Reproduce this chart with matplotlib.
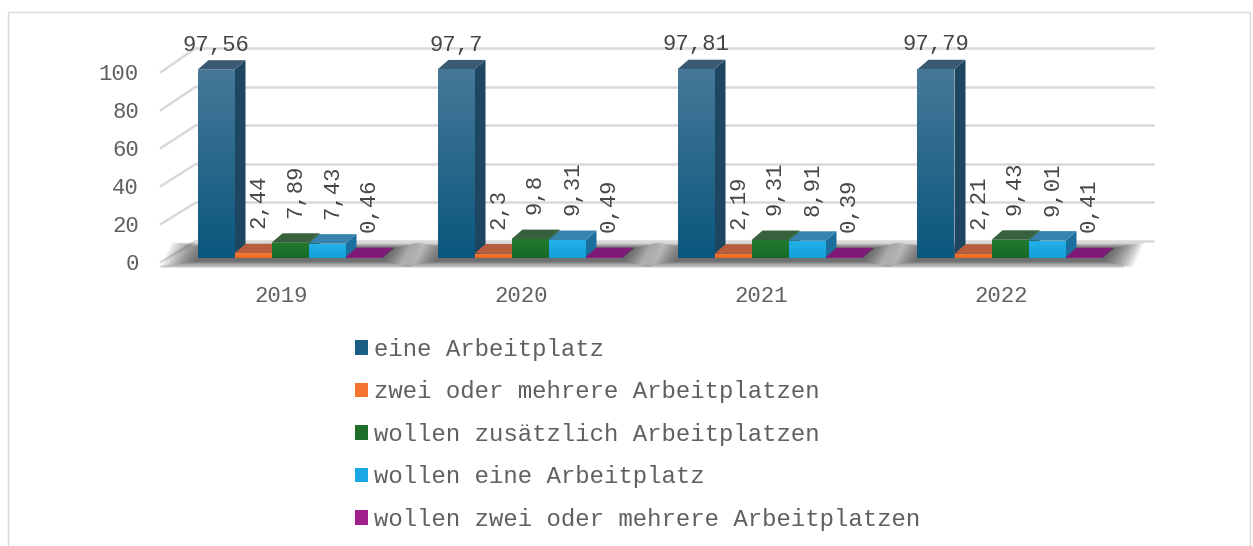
import matplotlib
matplotlib.use("Agg")
import matplotlib.pyplot as plt
import numpy as np
from matplotlib.patches import Polygon, Rectangle, Patch
from matplotlib.colors import LinearSegmentedColormap

# ---------------- data ----------------
years = ["2019", "2020", "2021", "2022"]
series_names = [
    "eine Arbeitplatz",
    "zwei oder mehrere Arbeitplatzen",
    "wollen zusätzlich Arbeitplatzen",
    "wollen eine Arbeitplatz",
    "wollen zwei oder mehrere Arbeitplatzen",
]
eine = [97.56, 97.7, 97.81, 97.79]
zwei = [2.44, 2.3, 2.19, 2.21]
zusaetzlich = [7.89, 9.8, 9.31, 9.43]
wollen_eine = [7.43, 9.31, 8.91, 9.01]
wollen_zwei = [0.46, 0.49, 0.39, 0.41]
series_values = [eine, zwei, zusaetzlich, wollen_eine, wollen_zwei]
y_ticks = [0, 20, 40, 60, 80, 100]

# ---------------- style ----------------
front_top = ["#467898", "#f47a34", "#227a30", "#25b0e8", "#941f86"]
front_bot = ["#0b587e", "#ec6a22", "#166a26", "#12a0da", "#8a1a7c"]
top_col = ["#3a5a73", "#b85e3c", "#37613c", "#3684ad", "#7f1b77"]
side_col = ["#1d4660", "#a84a1c", "#0f4a1a", "#1a6f9c", "#5c1256"]
legend_col = ["#1a5e85", "#f47430", "#1e6e2a", "#1aa8e4", "#a0208e"]
text_col = "#606060"
value_col = "#454545"
grid_col = "#d9d9d9"
FONT = "Liberation Mono"

W, H = 1253, 546
fig = plt.figure(figsize=(W / 100, H / 100), dpi=100)
fig.patch.set_facecolor("white")


def rect_px(left, top, right, bottom):
    return [left / W, 1 - bottom / H, (right - left) / W, (bottom - top) / H]


# chart border
fig.add_artist(Rectangle((8 / W, -0.1), (1250 - 8) / W, 1 - 12 / H + 0.1,
                         transform=fig.transFigure, fill=False,
                         edgecolor="#d9d9d9", lw=1.0))

# main (bar plane) axes: x -0.5..3.5 -> 170..1130 px ; y 0..100 -> 258..65 px
ax = fig.add_axes(rect_px(170, 65, 1130, 258))
ax.set_xlim(-0.5, 3.5)
ax.set_ylim(0, 100)
ax.axis("off")

px_per_x = 960 / 4.0
px_per_y = 193 / 100.0
DX = 11 / px_per_x      # bar depth in data units
DY = 9.5 / px_per_y

# back wall (offset plane)
wall_dy = 17 / px_per_y
wall_x0 = (196 - 290) / px_per_x
wall_x1 = (1154 - 290) / px_per_x
# front plane
front_x0 = (161 - 290) / px_per_x
front_scale = 1.9 / px_per_y
front_off = (258 - 262) / px_per_y

for v in y_ticks:
    yb = v + wall_dy
    ax.plot([wall_x0, wall_x1], [yb, yb], color=grid_col, lw=1.8,
            clip_on=False, zorder=1, solid_capstyle="butt")
    yf = v * front_scale + front_off
    ax.plot([front_x0, wall_x0], [yf, yb], color=grid_col, lw=1.8,
            clip_on=False, zorder=1)

# floor front edge
floor_front_y = (258 - 265.5) / px_per_y
floor_right_front = (1122 - 290) / px_per_x
ax.plot([front_x0, floor_right_front], [floor_front_y, floor_front_y],
        color=grid_col, lw=1.8, clip_on=False, zorder=1)

# ---------------- bars ----------------
n = len(series_values)
bw = 37 / px_per_x
x = np.arange(len(years))

# shadows under each group
for g in x:
    gx0 = g - n / 2 * bw
    gx1 = g + n / 2 * bw
    layers = 12
    for k in range(layers):
        t = 1 - k / layers
        ex_l = 36 * t / px_per_x
        ex_r = 30 * t / px_per_x
        ey = 6 * t / px_per_y
        poly = [(gx0 - ex_l, -ey - 1.5), (gx1 + ex_r, -ey - 1.5),
                (gx1 + DX + ex_r, DY + ey), (gx0 + DX - ex_l, DY + ey)]
        ax.add_patch(Polygon(poly, closed=True, facecolor="#303030",
                             edgecolor="none", alpha=0.09, zorder=2,
                             clip_on=False))

grad = np.linspace(0, 1, 64).reshape(-1, 1)
z = 3
for g in x:
    for i, vals in enumerate(series_values):
        v = vals[g]
        xc = g + (i - (n - 1) / 2) * bw
        x0, x1 = xc - bw / 2, xc + bw / 2
        # side face
        ax.add_patch(Polygon([(x1, 0), (x1, v), (x1 + DX, v + DY), (x1 + DX, DY)],
                             closed=True, facecolor=side_col[i], edgecolor="none",
                             zorder=z, clip_on=False))
        # top face
        ax.add_patch(Polygon([(x0, v), (x1, v), (x1 + DX, v + DY), (x0 + DX, v + DY)],
                             closed=True, facecolor=top_col[i], edgecolor="none",
                             zorder=z, clip_on=False))
        # front face
        b = ax.bar(xc, v, width=bw, color=front_bot[i], edgecolor="none",
                   zorder=z + 0.5, clip_on=False)[0]
        cmap = LinearSegmentedColormap.from_list("g", [front_top[i], front_bot[i]])
        im = ax.imshow(grad, cmap=cmap, aspect="auto",
                       extent=(x0, x1, 0, v), origin="upper",
                       zorder=z + 0.6, interpolation="bilinear")
        im.set_clip_path(b)
        z += 1
        # value label
        lbl = str(v).replace(".", ",")
        if i == 0:
            ax.annotate(lbl, xy=(xc, v), xytext=(0, 10), textcoords="offset points",
                        ha="center", va="bottom", fontsize=16, family=FONT,
                        color=value_col, zorder=50, annotation_clip=False)
        else:
            ax.annotate(lbl, xy=(xc + DX / 2, v), xytext=(0, 18), textcoords="offset points",
                        ha="center", va="bottom", rotation=90, fontsize=16, family=FONT,
                        color=value_col, zorder=50, annotation_clip=False)

ax.set_xlim(-0.5, 3.5)
ax.set_ylim(0, 100)

# front plane axes for tick labels
axf = fig.add_axes(rect_px(161, 72, 1121, 262))
axf.set_xlim(-0.5, 3.5)
axf.set_ylim(0, 100)
axf.patch.set_visible(False)
for s in axf.spines.values():
    s.set_visible(False)
axf.set_yticks(y_ticks)
axf.set_yticklabels([str(t) for t in y_ticks], family=FONT, fontsize=16, color=text_col)
axf.set_xticks(x)
axf.set_xticklabels(years, family=FONT, fontsize=16, color=text_col)
axf.tick_params(axis="y", length=0, pad=16)
axf.tick_params(axis="x", length=0, pad=17)
axf.set_zorder(-1)

# legend
handles = [Patch(facecolor=c, edgecolor="none") for c in legend_col]
leg = fig.legend(handles, series_names, loc="upper left",
                 bbox_to_anchor=(355 / W, 1 - 338 / H), frameon=False,
                 prop={"family": FONT, "size": 17.3}, handlelength=0.55,
                 handleheight=0.55, handletextpad=0.22, labelspacing=0.81,
                 borderpad=0, borderaxespad=0)
for t in leg.get_texts():
    t.set_color(text_col)

fig.savefig("out.png", dpi=100, facecolor="white")
